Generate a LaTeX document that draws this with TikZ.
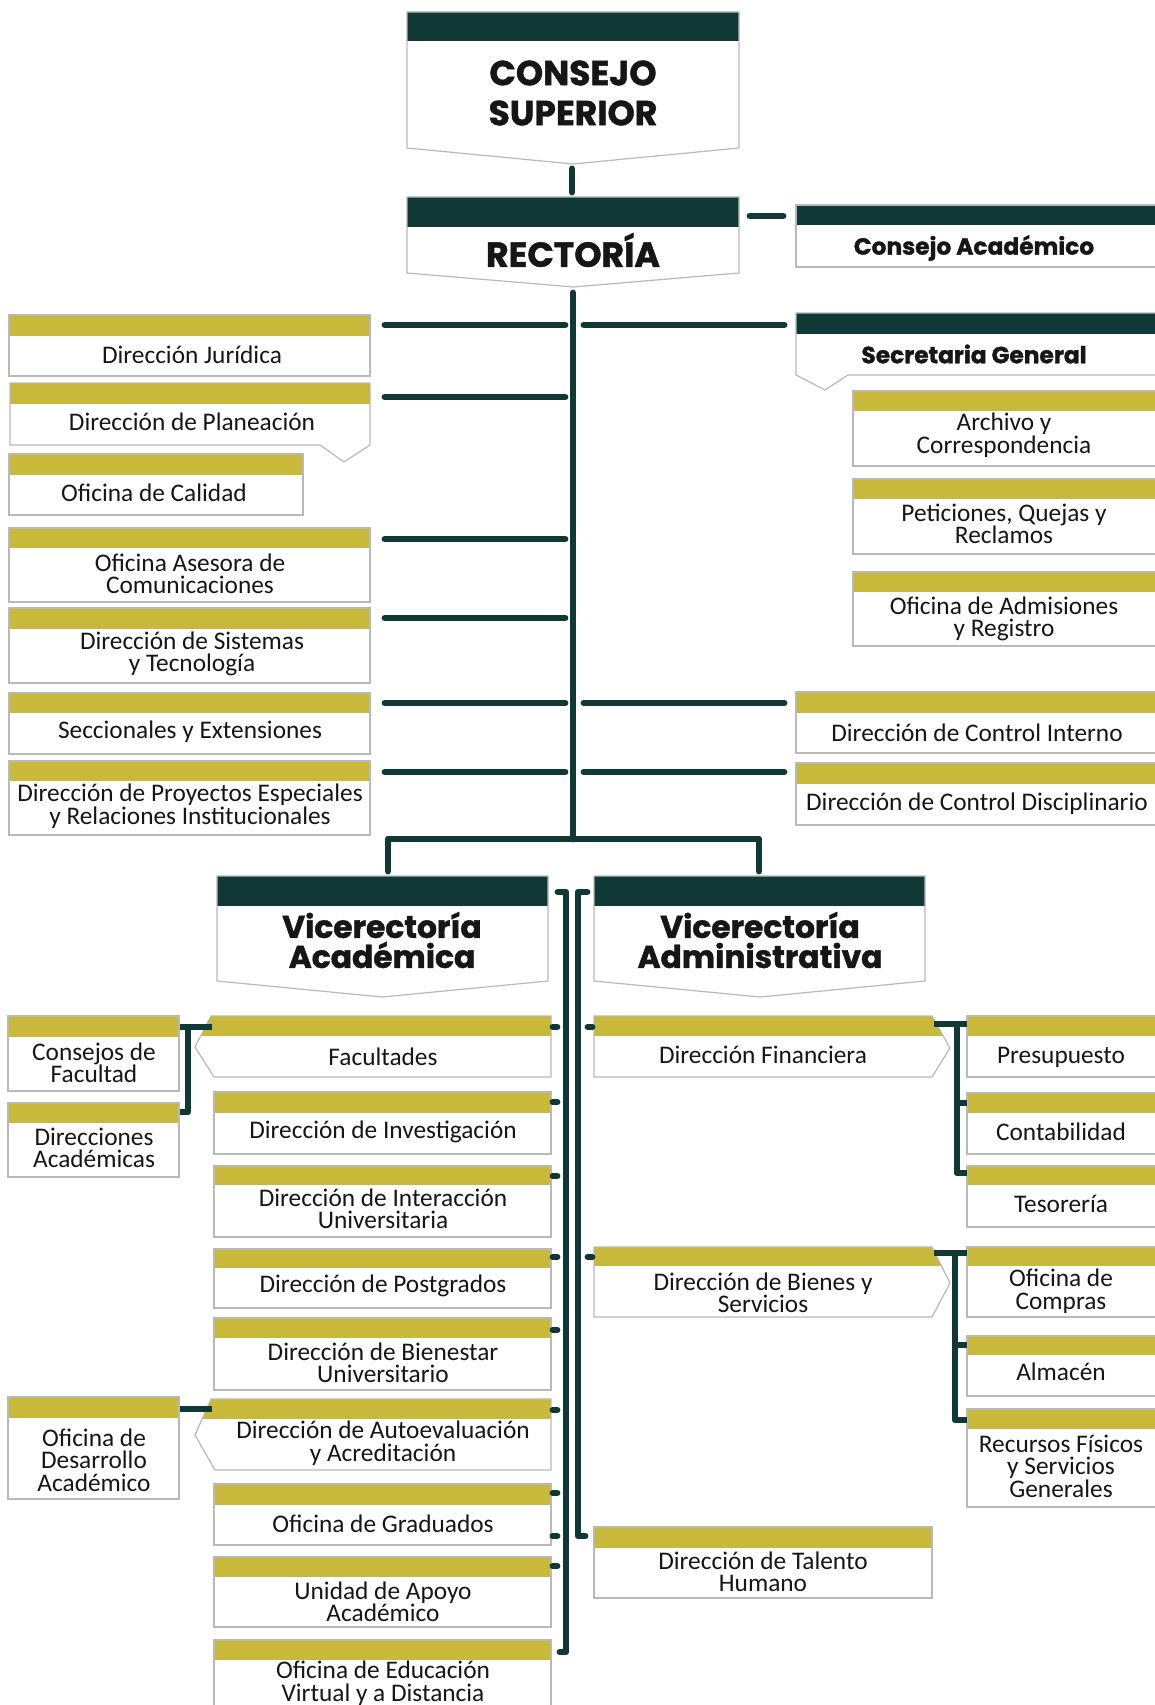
\documentclass[tikz,border=0pt]{standalone}
\usepackage{fontspec}
\setmainfont{Carlito}
\newfontfamily\headfont{Poppins}[BoldFeatures={FakeBold=1.3}]
\definecolor{dk}{RGB}{16,57,54}
\definecolor{gd}{RGB}{200,185,58}
\definecolor{edgec}{RGB}{185,185,185}
\definecolor{ink}{RGB}{22,22,22}
\tikzset{
  conn/.style={draw=dk, line width=5.2pt, line cap=round, line join=round},
  connb/.style={draw=dk, line width=5.2pt, line cap=butt, line join=round},
  edgeline/.style={draw=edgec, line width=0.9pt},
  txt/.style={font=\fontsize{19}{16.9}\selectfont, text=ink, align=center, inner sep=0pt},
  headA/.style={font=\headfont\bfseries\fontsize{26}{30}\selectfont, text=ink, align=center, inner sep=0pt},
  headB/.style={font=\headfont\bfseries\fontsize{17.5}{20}\selectfont, text=ink, align=center, inner sep=0pt},
  headC/.style={font=\headfont\bfseries\fontsize{23.5}{22.5}\selectfont, text=ink, align=center, inner sep=0pt},
}
% rectangle box with coloured band: x1,y1,x2,y2,band bottom,colour
\newcommand\rbox[6]{%
  \fill[white] (#1,#2) rectangle (#3,#4);
  \fill[#6] (#1,#2) rectangle (#3,#5);
  \draw[edgeline] (#1,#2) rectangle (#3,#4);}
% shaped box: path, band bottom, colour
\newcommand\shbox[3]{%
  \fill[white] #1;
  \begin{scope}\clip #1; \fill[#3] (0,0) rectangle (1200,#2);\end{scope}
  \draw[edgeline] #1;}
\begin{document}
\begin{tikzpicture}[x=0.75pt,y=-0.75pt]
\useasboundingbox (0,0) rectangle (1154,1705);
\fill[white] (0,0) rectangle (1154,1705);

% ---------- top headers ----------
\shbox{(407,12)--(739,12)--(739,148)--(573,164)--(407,148)--cycle}{41}{dk}
\node[headA] (cs) at (573,93) {CONSEJO\\SUPERIOR};
\shbox{(407,197)--(739,197)--(739,273)--(573,287)--(407,273)--cycle}{227}{dk}
\node[headA] (rect) at (573,250) {RECTORÍA};

\rbox{796}{205}{1157}{267}{225}{dk}
\node[headB] (cacad) at (974,248) {Consejo Académico};
\shbox{(796,313)--(1157,313)--(1157,375)--(848,375)--(825,390)--(796,375)--cycle}{334}{dk}
\node[headB] (sec) at (974,354) {Secretaria General};

\rbox{853}{391}{1157}{466}{411}{gd}
\node[txt] (arch) at (1004,435) {Archivo y\\Correspondencia};
\rbox{853}{479}{1157}{554}{499}{gd}
\node[txt] (pqr) at (1004,524) {Peticiones, Quejas y\\Reclamos};
\rbox{853}{572}{1157}{646}{592}{gd}
\node[txt] (adm) at (1004,619) {Oficina de Admisiones\\y Registro};

\rbox{796}{692}{1157}{753}{713}{gd}
\node[txt] (cint) at (977,733) {Dirección de Control Interno};
\rbox{796}{763}{1157}{825}{784}{gd}
\node[txt] (cdis) at (977,804) {Dirección de Control Disciplinario};

% ---------- left column ----------
\rbox{9}{315}{370}{376}{336}{gd}
\node[txt] (jur) at (192,355) {Dirección Jurídica};
\shbox{(10,383)--(370,383)--(370,445)--(344,462)--(320,445)--(10,445)--cycle}{404}{gd}
\node[txt] (plan) at (192,422) {Dirección de Planeación};
\rbox{9}{454}{303}{515}{475}{gd}
\node[txt] (cal) at (154,493) {Oficina de Calidad};
\rbox{9}{528}{370}{602}{548}{gd}
\node[txt] (ase) at (190,574) {Oficina Asesora de\\Comunicaciones};
\rbox{9}{608}{370}{683}{629}{gd}
\node[txt] (sis) at (192,654) {Dirección de Sistemas\\y Tecnología};
\rbox{9}{693}{370}{754}{713}{gd}
\node[txt] (secc) at (190,732) {Seccionales y Extensiones};
\rbox{9}{761}{370}{835}{781}{gd}
\node[txt] (proy) at (190,806) {Dirección de Proyectos Especiales\\y Relaciones Institucionales};

% ---------- vicerrectorias ----------
\shbox{(217,876)--(548,876)--(548,981)--(382,997)--(217,981)--cycle}{906}{dk}
\node[headC] (vac) at (382,940) {Vicerectoría\\Académica};
\shbox{(594,876)--(925,876)--(925,981)--(760,997)--(594,981)--cycle}{906}{dk}
\node[headC] (vad) at (760,940) {Vicerectoría\\Administrativa};

% ---------- academic ----------
\rbox{8}{1016}{179}{1091}{1037}{gd}
\node[txt] (cfac) at (94,1063) {Consejos de\\Facultad};
\rbox{8}{1103}{179}{1177}{1123}{gd}
\node[txt] (dac) at (94,1148) {Direcciones\\Académicas};
\shbox{(211,1016)--(551,1016)--(551,1077)--(214,1077)--(195,1047)--cycle}{1036}{gd}
\node[txt] (fac) at (383,1057) {Facultades};
\rbox{214}{1092}{551}{1154}{1113}{gd}
\node[txt] (inv) at (383,1132) {Dirección de Investigación};
\rbox{214}{1166}{551}{1237}{1185}{gd}
\node[txt] (int) at (383,1209) {Dirección de Interacción\\Universitaria};
\rbox{214}{1249}{551}{1308}{1268}{gd}
\node[txt] (pos) at (383,1286) {Dirección de Postgrados};
\rbox{214}{1318}{551}{1390}{1338}{gd}
\node[txt] (bien) at (383,1363) {Dirección de Bienestar\\Universitario};
\shbox{(211,1399)--(551,1399)--(551,1470)--(215,1470)--(195,1435)--cycle}{1419}{gd}
\node[txt] (auto) at (383,1443) {Dirección de Autoevaluación\\y Acreditación};
\rbox{8}{1397}{179}{1499}{1418}{gd}
\node[txt] (odes) at (94,1460) {Oficina de\\Desarrollo\\Académico};
\rbox{214}{1484}{551}{1545}{1505}{gd}
\node[txt] (grad) at (383,1524) {Oficina de Graduados};
\rbox{214}{1557}{551}{1627}{1577}{gd}
\node[txt] (uaa) at (383,1602) {Unidad de Apoyo\\Académico};
\rbox{214}{1640}{551}{1712}{1660}{gd}
\node[txt] (evir) at (383,1683) {Oficina de Educación\\Virtual y a Distancia};

% ---------- administrative ----------
\shbox{(594,1016)--(932,1016)--(950,1048)--(932,1077)--(594,1077)--cycle}{1036}{gd}
\node[txt] (fin) at (763,1055) {Dirección Financiera};
\rbox{967}{1016}{1157}{1077}{1036}{gd}
\node[txt] (pres) at (1061,1057) {Presupuesto};
\rbox{967}{1093}{1157}{1154}{1113}{gd}
\node[txt] (cont) at (1061,1132) {Contabilidad};
\rbox{967}{1166}{1157}{1227}{1185}{gd}
\node[txt] (tes) at (1061,1204) {Tesorería};
\shbox{(594,1247)--(932,1247)--(950,1283)--(932,1317)--(594,1317)--cycle}{1266}{gd}
\node[txt] (bys) at (763,1293) {Dirección de Bienes y\\Servicios};
\rbox{967}{1247}{1157}{1317}{1266}{gd}
\node[txt] (comp) at (1061,1291) {Oficina de\\Compras};
\rbox{967}{1336}{1157}{1396}{1355}{gd}
\node[txt] (alm) at (1061,1372) {Almacén};
\rbox{967}{1409}{1157}{1507}{1429}{gd}
\node[txt] (rfis) at (1061,1466) {Recursos Físicos\\y Servicios\\Generales};
\rbox{594}{1527}{932}{1598}{1548}{gd}
\node[txt] (tal) at (763,1572) {Dirección de Talento\\Humano};

% ---------- connector end points ----------
\coordinate (csb) at (572,169);  \coordinate (rt) at (572,192);
\coordinate (rr) at (750,216);   \coordinate (cal-l) at (783,216);
\coordinate (mt) at (573,293);   \coordinate (mb) at (573,839);
\foreach \n/\y in {a/325,b/397,c/539,d/618,e/703,f/772}{
  \coordinate (L\n1) at (385,\y); \coordinate (L\n2) at (565,\y);}
\foreach \n/\y in {a/325,e/703,f/772}{
  \coordinate (R\n1) at (584,\y); \coordinate (R\n2) at (784,\y);}
\coordinate (bl) at (388,871); \coordinate (blt) at (388,839);
\coordinate (brt) at (759,839); \coordinate (br) at (759,871);
\coordinate (va0) at (558,892); \coordinate (va1) at (566,892);
\coordinate (va2) at (566,1652); \coordinate (va3) at (560,1652);
\coordinate (vd0) at (587,892); \coordinate (vd1) at (578,892);
\coordinate (vd2) at (578,1536); \coordinate (vd3) at (585,1536);

% ---------- connectors ----------
\draw[conn] (csb) -- (rt);
\draw[conn] (rr) -- (cal-l);
\draw[conn] (mt) -- (mb);
\foreach \n in {a,b,c,d,e,f}{\draw[conn] (L\n1) -- (L\n2);}
\foreach \n in {a,e,f}{\draw[conn] (R\n1) -- (R\n2);}
\draw[conn] (bl) -- (blt) -- (brt) -- (br);
\draw[conn] (va0) -- (va1) -- (va2) -- (va3);
\draw[conn] (vd0) -- (vd1) -- (vd2) -- (vd3);
\foreach \y in {1027,1102,1176,1257,1330,1410,1493,1536,1566}{
  \draw[conn] (553,\y) -- (557,\y);}
\foreach \y in {1027,1257}{\draw[conn] (588,\y) -- (592,\y);}
% facultades bracket
\draw[connb] (179.5,1027) -- (212,1027);
\draw[connb] (188,1027) -- (188,1112) -- (179.5,1112);
\draw[connb] (179.5,1409) -- (212,1409);
% financiera bracket
\draw[connb] (934,1024) -- (967,1024);
\draw[connb] (957,1024) -- (957,1173) -- (967,1173);
\draw[connb] (957,1103) -- (967,1103);
% bienes bracket
\draw[connb] (934,1253) -- (967,1253);
\draw[connb] (955,1253) -- (955,1420) -- (967,1420);
\draw[connb] (955,1345) -- (967,1345);
\end{tikzpicture}
\end{document}
